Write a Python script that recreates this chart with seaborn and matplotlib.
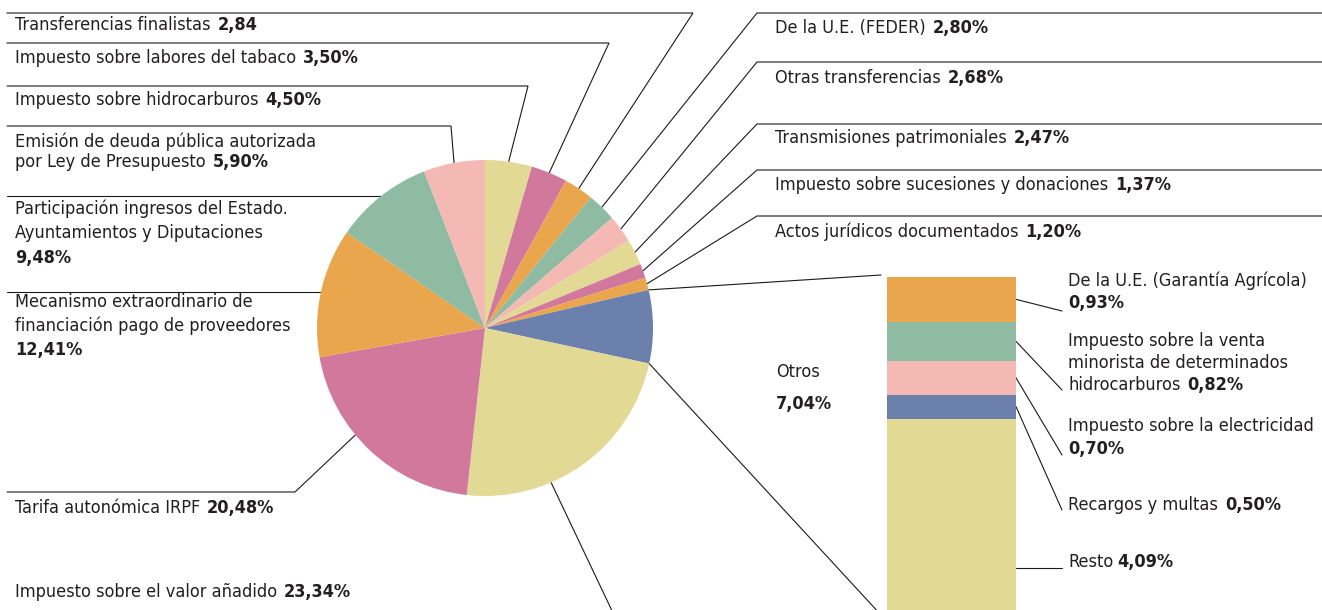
import matplotlib
matplotlib.use("Agg")
import matplotlib.pyplot as plt
from matplotlib import font_manager
import numpy as np
import pandas as pd
import seaborn as sns

# ---- datos ----
pie_labels = [
    ["Impuesto sobre hidrocarburos"],
    ["Impuesto sobre labores del tabaco"],
    ["Transferencias finalistas"],
    ["De la U.E. (FEDER)"],
    ["Otras transferencias"],
    ["Transmisiones patrimoniales"],
    ["Impuesto sobre sucesiones y donaciones"],
    ["Actos jurídicos documentados"],
    ["Otros"],
    ["Impuesto sobre el valor añadido"],
    ["Tarifa autonómica IRPF"],
    ["Mecanismo extraordinario de", "financiación pago de proveedores", ""],
    ["Participación ingresos del Estado.", "Ayuntamientos y Diputaciones", ""],
    ["Emisión de deuda pública autorizada", "por Ley de Presupuesto"],
]
pie_values = [4.50, 3.50, 2.84, 2.80, 2.68, 2.47, 1.37, 1.20, 7.04, 23.34, 20.48, 12.41, 9.48, 5.90]
sin_porcentaje = ["Transferencias finalistas"]

otros_labels = [
    ["De la U.E. (Garantía Agrícola)", ""],
    ["Impuesto sobre la venta", "minorista de determinados", "hidrocarburos"],
    ["Impuesto sobre la electricidad", ""],
    ["Recargos y multas"],
    ["Resto"],
]
otros_values = [0.93, 0.82, 0.70, 0.50, 4.09]

# ---- colores ----
AMARILLO = "#E2D994"
MAGENTA = "#D3789D"
NARANJA = "#EAA64C"
VERDE = "#8FBBA2"
ROSA = "#F5B9B3"
AZUL = "#6C80AD"
TXT = "#231F20"
LINEA = "#1a1a1a"
pie_colors = [AMARILLO, MAGENTA, NARANJA, VERDE, ROSA, AMARILLO, MAGENTA, NARANJA,
              AZUL, AMARILLO, MAGENTA, NARANJA, VERDE, ROSA]
otros_colors = [NARANJA, VERDE, ROSA, AZUL, AMARILLO]

sns.set_theme(style="white")
# fuente estrecha si la hay; si no, Roboto
cond = font_manager.FontProperties(family="DejaVu Sans", stretch="condensed")
if "Condensed" in font_manager.findfont(cond, fallback_to_default=False):
    plt.rcParams["font.family"] = ["DejaVu Sans"]
    plt.rcParams["font.stretch"] = "condensed"
    FS = 13
else:
    plt.rcParams["font.family"] = ["Roboto", "DejaVu Sans"]
    FS = 13.5

W, H = 1322, 610
fig = plt.figure(figsize=(W / 100, H / 100), dpi=100)

# capa de anotaciones en píxeles
ov = fig.add_axes([0, 0, 1, 1])
ov.set_xlim(0, W)
ov.set_ylim(H, 0)
ov.axis("off")

# tarta
cx, cy, R = 485, 328, 168
pax = fig.add_axes([(cx - R) / W, 1 - (cy + R) / H, 2 * R / W, 2 * R / H])
wedges, _ = pax.pie(pie_values, colors=pie_colors, startangle=90, counterclock=False,
                    radius=1, wedgeprops=dict(linewidth=0))
pax.set_xlim(-1, 1)
pax.set_ylim(-1, 1)

# barra de "Otros"
bax = fig.add_axes([887 / W, 1 - 615 / H, 129 / W, (615 - 277) / H])
cum = np.cumsum(otros_values[::-1])[::-1]
for val, col in zip(cum, otros_colors):
    df = pd.DataFrame({"grupo": ["Otros"], "valor": [val]})
    sns.barplot(data=df, x="grupo", y="valor", color=col, saturation=1, width=1,
                errorbar=None, linewidth=0, edgecolor=col, ax=bax)
bax.set_xlim(-0.5, 0.5)
bax.set_ylim(0, sum(otros_values))
bax.axis("off")

renderer = fig.canvas.get_renderer()


def a_px(ax, x, y):
    d = ax.transData.transform((x, y))
    return ov.transData.inverted().transform(d)


def punto_tarta(i, frac=0.5):
    w = wedges[i]
    ang = np.deg2rad(w.theta2 - (w.theta2 - w.theta1) * frac)
    return a_px(pax, np.cos(ang), np.sin(ang))


def fmt(v, nombre=""):
    s = f"{v:.2f}".replace(".", ",")
    return s if nombre in sin_porcentaje else s + "%"


def rotulo(x, ys, lineas, valor, gap=7):
    for k, (y, linea) in enumerate(zip(ys, lineas)):
        ultimo = k == len(lineas) - 1
        xx = x
        if linea:
            t = ov.text(x, y, linea, va="center", ha="left", fontsize=FS, color=TXT)
            if ultimo:
                xx = t.get_window_extent(renderer).x1 + gap
        if ultimo:
            ov.text(xx, y, valor, va="center", ha="left", fontsize=FS, color=TXT,
                    fontweight="bold")


def linea(pts):
    pts = np.array(pts)
    ov.plot(pts[:, 0], pts[:, 1], color=LINEA, lw=0.8, solid_joinstyle="miter")


# rótulos a la izquierda: (y de la línea, x del codo, y de cada línea de texto)
izq = {0: (86, 528, [100]), 1: (43, 609, [58]), 2: (13, 693, [25]),
       10: (492, 295, [508]), 11: (None, None, [302, 326, 350]),
       12: (None, None, [209, 233, 258]), 13: (126, 451, [142, 162])}
# rótulos a la derecha: (y de la línea, y del texto)
der = {3: (13, [28]), 4: (62, [78]), 5: (124, [138]), 6: (170, [185]), 7: (216, [232])}
frac_anc = {9: 0.65, 10: 0.6}

for i, (ly, kx, tys) in izq.items():
    p = punto_tarta(i, frac_anc.get(i, 0.5))
    if ly is None:
        pts = [(7, p[1]), tuple(p)]
    else:
        pts = [(7, ly), (kx, ly), tuple(p)]
    linea(pts)
    rotulo(15, tys, pie_labels[i], fmt(pie_values[i], pie_labels[i][0]))

for i, (ly, tys) in der.items():
    p = punto_tarta(i)
    linea([tuple(p), (757, ly), (W, ly)])
    rotulo(775, tys, pie_labels[i], fmt(pie_values[i], pie_labels[i][0]))

# IVA
p = punto_tarta(9, frac_anc[9])
linea([tuple(p), (614, 615)])
rotulo(15, [592], pie_labels[9], fmt(pie_values[9]))

# Otros
ov.text(776, 372, pie_labels[8][0], va="center", ha="left", fontsize=FS, color=TXT)
ov.text(776, 404, fmt(pie_values[8]), va="center", ha="left", fontsize=FS, color=TXT,
        fontweight="bold")
w = wedges[8]
arriba = a_px(pax, np.cos(np.deg2rad(w.theta2)), np.sin(np.deg2rad(w.theta2)))
abajo = a_px(pax, np.cos(np.deg2rad(w.theta1)), np.sin(np.deg2rad(w.theta1)))
esq_sup = a_px(bax, -0.5, sum(otros_values))
esq_inf = a_px(bax, -0.5, 0)
linea([tuple(arriba), (esq_sup[0] - 6, esq_sup[1] - 2)])
linea([tuple(abajo), (esq_inf[0] - 6, esq_inf[1])])

# rótulos de la barra: (y de cada línea de texto, y final del conector)
bar_lay = [([281, 303], 311), ([341, 363, 385], 390), ([426, 449], 455), ([505], 510), ([562], 568)]
for j, (tys, ey) in enumerate(bar_lay):
    mid = cum[j] - otros_values[j] / 2
    p = a_px(bax, 0.5, mid)
    if j == len(bar_lay) - 1:
        p = (p[0], ey)
    linea([tuple(p), (1062, ey)])
    rotulo(1068, tys, otros_labels[j], fmt(otros_values[j]), gap=7 if j < 4 else 4)

fig.savefig("out.png", dpi=100)
